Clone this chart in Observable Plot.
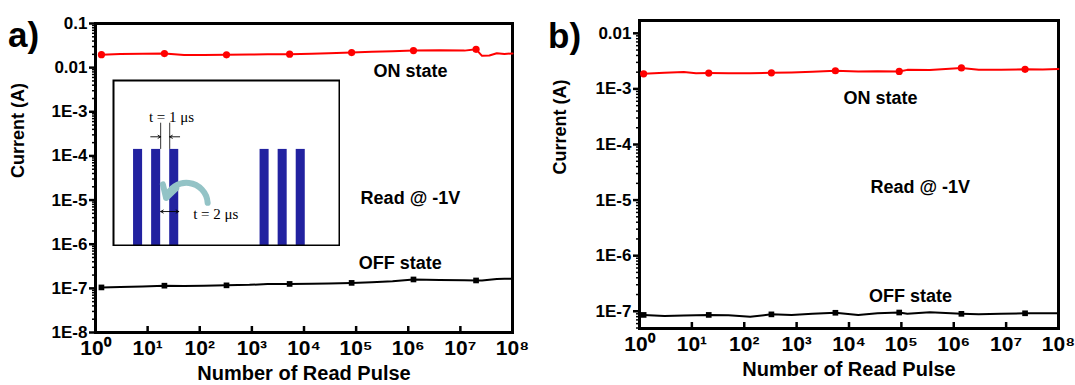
<!DOCTYPE html>
<html><head><meta charset="utf-8">
<script src="https://cdn.jsdelivr.net/npm/d3@7"></script>
<script src="https://cdn.jsdelivr.net/npm/@observablehq/plot@0.6"></script>
<style>
body{margin:0;background:#fff;font-family:"Liberation Sans",Arial,sans-serif;}
#wrap{position:relative;width:1075px;height:385px;display:flex;}
.panel{position:relative;}
.tag{position:absolute;font-weight:bold;font-size:35px;line-height:1;}
#inset{position:absolute;left:112px;top:79px;}
svg{display:block;}
</style></head><body>
<div id="wrap">
  <div class="panel" id="pa"><div class="tag" style="left:8px;top:17px">a)</div></div>
  <div class="panel" id="pb"><div class="tag" style="left:8px;top:18px">b)</div></div>
</div>
<script>
// ---------- data ----------
const xTicks = [1, 1e1, 1e2, 1e3, 1e4, 1e5, 1e6, 1e7, 1e8];
const xTickLabels = ["10⁰", "10¹", "10²", "10³", "10⁴", "10⁵", "10⁶", "10⁷", "10⁸"];

const aYTicks = [0.1, 0.01, 1e-3, 1e-4, 1e-5, 1e-6, 1e-7, 1e-8];
const aYTickLabels = ["0.1", "0.01", "1E-3", "1E-4", "1E-5", "1E-6", "1E-7", "1E-8"];
const bYTicks = [0.01, 1e-3, 1e-4, 1e-5, 1e-6, 1e-7];
const bYTickLabels = ["0.01", "1E-3", "1E-4", "1E-5", "1E-6", "1E-7"];

// panel a traces
const aLineX = [1.3, 3, 8, 21, 50, 120, 326, 900, 2000, 5300, 14000, 30000, 82000, 200000, 500000, 1.26e6, 4e6, 1.2e7, 2e7, 2.6e7, 3.6e7, 5e7, 7e7, 1e8];
const aOn  = [0.0197, 0.0203, 0.0207, 0.0208, 0.0193, 0.0194, 0.0195, 0.0198, 0.0200, 0.0202, 0.0207, 0.0212, 0.0219, 0.0228, 0.0236, 0.0244, 0.0249, 0.0243, 0.0260, 0.0185, 0.0188, 0.0212, 0.0205, 0.0210];
const aOff = [1.05e-7, 1.07e-7, 1.10e-7, 1.15e-7, 1.13e-7, 1.14e-7, 1.17e-7, 1.20e-7, 1.25e-7, 1.26e-7, 1.27e-7, 1.29e-7, 1.33e-7, 1.38e-7, 1.45e-7, 1.59e-7, 1.55e-7, 1.52e-7, 1.51e-7, 1.50e-7, 1.56e-7, 1.62e-7, 1.65e-7, 1.65e-7];
const aMarkX = [1.3, 21, 326, 5300, 82000, 1.26e6, 2e7];
const aMarkOn = [0.0197, 0.0208, 0.0195, 0.0202, 0.0219, 0.0244, 0.0260];
const aMarkOff = [1.05e-7, 1.15e-7, 1.17e-7, 1.26e-7, 1.33e-7, 1.59e-7, 1.51e-7];

// panel b traces
const bLineX = [1.2, 3, 7, 12, 21, 50, 130, 330, 800, 2000, 5500, 15000, 35000, 91000, 130000, 350000, 1.4e6, 3e6, 8e6, 2.3e7, 5e7, 1e8];
const bOn  = [1.87e-3, 1.95e-3, 2.02e-3, 1.92e-3, 1.93e-3, 1.92e-3, 1.92e-3, 1.95e-3, 1.98e-3, 2.04e-3, 2.12e-3, 2.06e-3, 2.08e-3, 2.06e-3, 2.20e-3, 2.18e-3, 2.38e-3, 2.20e-3, 2.20e-3, 2.25e-3, 2.24e-3, 2.28e-3];
const bOff = [0.86e-7, 0.82e-7, 0.84e-7, 0.85e-7, 0.86e-7, 0.85e-7, 0.80e-7, 0.88e-7, 0.86e-7, 0.90e-7, 0.94e-7, 0.86e-7, 0.92e-7, 0.95e-7, 0.90e-7, 0.96e-7, 0.90e-7, 0.88e-7, 0.90e-7, 0.92e-7, 0.92e-7, 0.92e-7];
const bMarkX = [1.2, 21, 330, 5500, 91000, 1.4e6, 2.3e7];
const bMarkOn = [1.87e-3, 1.93e-3, 1.95e-3, 2.12e-3, 2.06e-3, 2.38e-3, 2.25e-3];
const bMarkOff = [0.86e-7, 0.86e-7, 0.88e-7, 0.94e-7, 0.95e-7, 0.90e-7, 0.92e-7];

// inset pulse train (µs)
const pulseStarts = [0, 2, 4, 14, 16, 18];
const pulseWidth = 1;
const pulseAmp = 1;

// ---------- helpers ----------
const FONT = "Liberation Sans, Arial, sans-serif";
function minorTicks(lo, hi) {
  const out = [];
  for (let e = Math.floor(Math.log10(lo)) - 1; e <= Math.ceil(Math.log10(hi)); e++)
    for (let m = 2; m <= 9; m++) { const v = m * Math.pow(10, e); if (v >= lo * 0.999 && v <= hi * 1.001) out.push(v); }
  return out;
}
const xFmt = d => xTickLabels[xTicks.indexOf(d)];

function panel(o) {
  const rows = (xs, ys) => xs.map((x, i) => ({x, y: ys[i]}));
  const yFmt = d => o.yLabels[o.yTicks.indexOf(d)];
  const frameH = 385 - o.mt - o.mb;
  return Plot.plot({
    width: o.width, height: 385,
    marginTop: o.mt, marginBottom: o.mb, marginLeft: o.ml, marginRight: o.mr,
    style: {fontFamily: FONT, fontWeight: "bold", color: "black", background: "transparent"},
    x: {type: "log", domain: [1, 1e8]},
    y: {type: "log", domain: o.yDomain},
    marks: [
      Plot.axisY(minorTicks(o.yDomain[0], o.yDomain[1]), {tickSize: 3, tickFormat: () => "", strokeWidth: 1.5, label: null}),
      Plot.axisY(o.yTicks, {tickSize: 6, tickFormat: yFmt, tickPadding: 2, fontSize: 17, strokeWidth: 2.5, label: null}),
      Plot.axisX(xTicks, {tickSize: 0, tickFormat: xFmt, tickPadding: 8, fontSize: 21, label: null}),
      Plot.ruleX(xTicks, {insetTop: frameH - 6, strokeWidth: 2.5, stroke: "#000"}),
      Plot.frame({strokeWidth: 3}),
      Plot.line(rows(o.lineX, o.on), {x: "x", y: "y", stroke: "#ff0000", strokeWidth: 2}),
      Plot.line(rows(o.lineX, o.off), {x: "x", y: "y", stroke: "#000", strokeWidth: 2}),
      Plot.dot(rows(o.markX, o.markOn), {x: "x", y: "y", r: 3.6, fill: "#ff0000"}),
      Plot.dot(rows(o.markX, o.markOff), {x: "x", y: "y", r: 3.2, symbol: "square", fill: "#000"}),
      Plot.text(o.notes, {x: "x", y: "y", text: "t", fontSize: 18}),
      Plot.text(["Current (A)"], {frameAnchor: "left", rotate: -90, dx: o.ylabDx, fontSize: 18}),
      Plot.text(["Number of Read Pulse"], {frameAnchor: "bottom", dy: 47, fontSize: 20})
    ]
  });
}

const pa = panel({
  width: 540, mt: 23, mb: 53, ml: 95, mr: 28,
  yDomain: [1e-8, 0.1], yTicks: aYTicks, yLabels: aYTickLabels,
  lineX: aLineX, on: aOn, off: aOff, markX: aMarkX, markOn: aMarkOn, markOff: aMarkOff,
  ylabDx: -77,
  notes: [
    {x: 1.1e6, y: 0.0085, t: "ON state"},
    {x: 1.1e6, y: 1.1e-5, t: "Read @ -1V"},
    {x: 7e5, y: 3.8e-7, t: "OFF state"}
  ]
});
const pb = panel({
  width: 535, mt: 20, mb: 57, ml: 99, mr: 17,
  yDomain: [4.9e-8, 0.017], yTicks: bYTicks, yLabels: bYTickLabels,
  lineX: bLineX, on: bOn, off: bOff, markX: bMarkX, markOn: bMarkOn, markOff: bMarkOff,
  ylabDx: -79,
  notes: [
    {x: 4e4, y: 6.7e-4, t: "ON state"},
    {x: 2.3e5, y: 1.7e-5, t: "Read @ -1V"},
    {x: 1.5e5, y: 1.86e-7, t: "OFF state"}
  ]
});
document.getElementById("pa").appendChild(pa);
document.getElementById("pb").appendChild(pb);

// inset schematic
const gapL = pulseStarts[1] + pulseWidth, gapR = pulseStarts[2];
const perR = pulseStarts[2] + pulseWidth;
const inset = Plot.plot({
  width: 228, height: 167, margin: 0,
  style: {background: "white", fontFamily: "Liberation Serif, Times New Roman, serif"},
  x: {domain: [-2.33, 22.9], axis: null},
  y: {domain: [0, 1.72], axis: null},
  marks: [
    Plot.rect(pulseStarts, {x1: d => d, x2: d => d + pulseWidth, y1: 0, y2: pulseAmp, fill: "#2222a0"}),
    Plot.ruleX([gapL, gapR], {y1: pulseAmp, y2: 1.27, stroke: "#000", strokeWidth: 0.8}),
    Plot.arrow([{a: gapL - 1.1, b: gapL}, {a: gapR + 1.1, b: gapR}], {x1: "a", x2: "b", y1: 1.13, y2: 1.13, headLength: 5, strokeWidth: 0.9, stroke: "#000"}),
    Plot.text(["t = 1 μs"], {x: 4.2, y: 1.33, fontSize: 15}),
    Plot.arrow([{a: (gapL + perR) / 2, b: gapL}, {a: (gapL + perR) / 2, b: perR}], {x1: "a", x2: "b", y1: 0.36, y2: 0.36, headLength: 5, strokeWidth: 0.9, stroke: "#000"}),
    Plot.text(["t = 2 μs"], {x: 9.1, y: 0.33, fontSize: 15}),
    Plot.arrow([{a: 8.2, b: 3.6}], {x1: "a", x2: "b", y1: 0.45, y2: 0.5, bend: -80, stroke: "#93c3c6", strokeWidth: 6, headLength: 13}),
    Plot.frame({strokeWidth: 2, inset: 1})
  ]
});
inset.id = "inset";
document.getElementById("pa").appendChild(inset);
</script>
</body></html>
